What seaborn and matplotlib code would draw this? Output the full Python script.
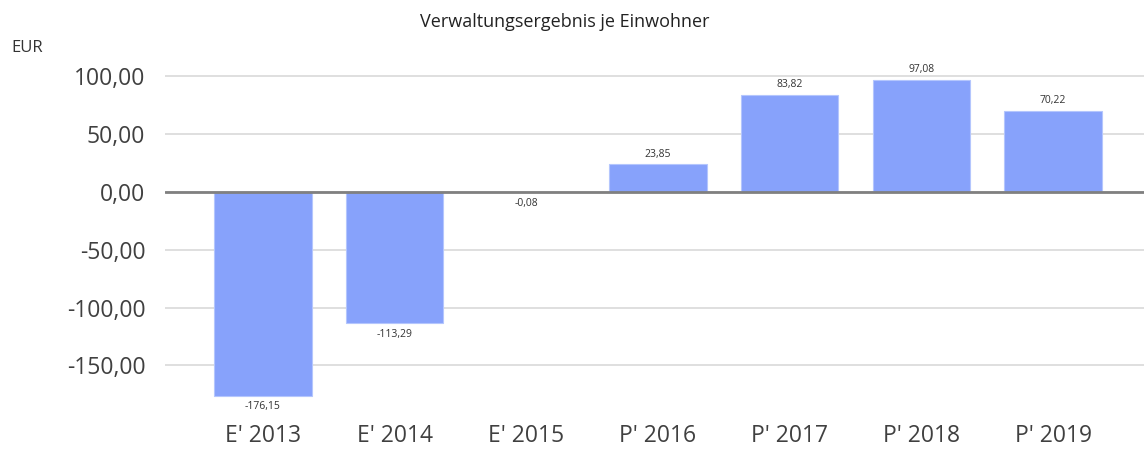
import pandas as pd
import matplotlib
matplotlib.use("Agg")
import matplotlib.pyplot as plt
import seaborn as sns

kategorien = ["E' 2013", "E' 2014", "E' 2015", "P' 2016", "P' 2017", "P' 2018", "P' 2019"]
werte = [-176.15, -113.29, -0.08, 23.85, 83.82, 97.08, 70.22]
y_ticks = [100, 50, 0, -50, -100, -150]

df = pd.DataFrame({'Jahr': kategorien, 'Wert': werte})

sns.set_style("white")
plt.rcParams['font.family'] = ['Open Sans', 'DejaVu Sans']

def de(v):
    return f"{v:.2f}".replace('.', ',')

fig = plt.figure(figsize=(11.44, 4.5), dpi=100)
ax = fig.add_axes([0.144, 0.111, 0.856, 0.771])

for t in y_ticks:
    ax.axhline(t, color='#d9d9d9', lw=1.2, zorder=0)

sns.barplot(data=df, x='Jahr', y='Wert', color='#87a2fb', saturation=1,
            width=0.74, ax=ax, zorder=2, edgecolor='#b4c6fd', linewidth=0.8)
ax.axhline(0, color='#808080', lw=2, zorder=3)

for i, v in enumerate(werte):
    if v >= 0:
        ax.text(i, v + 4, de(v), ha='center', va='bottom', fontsize=7.5, color='#333333')
    else:
        ax.text(i, v - 5, de(v), ha='center', va='top', fontsize=7.5, color='#333333')

ax.set_xlim(-0.745, 6.69)
ax.set_ylim(-180, 120)
ax.set_yticks(y_ticks)
ax.set_yticklabels([de(t) for t in y_ticks], fontsize=16.5, color='#404040')
ax.tick_params(axis='x', labelsize=16.5, labelcolor='#404040', length=0, pad=17)
ax.tick_params(axis='y', length=0, pad=14)
ax.set_xlabel('')
ax.set_ylabel('')
for s in ax.spines.values():
    s.set_visible(False)

fig.text(0.494, 0.952, 'Verwaltungsergebnis je Einwohner', ha='center', va='center',
         fontsize=13, color='#222222')
fig.text(0.01, 0.893, 'EUR', ha='left', va='center', fontsize=12, color='#333333')

fig.savefig('out.png', dpi=100)
